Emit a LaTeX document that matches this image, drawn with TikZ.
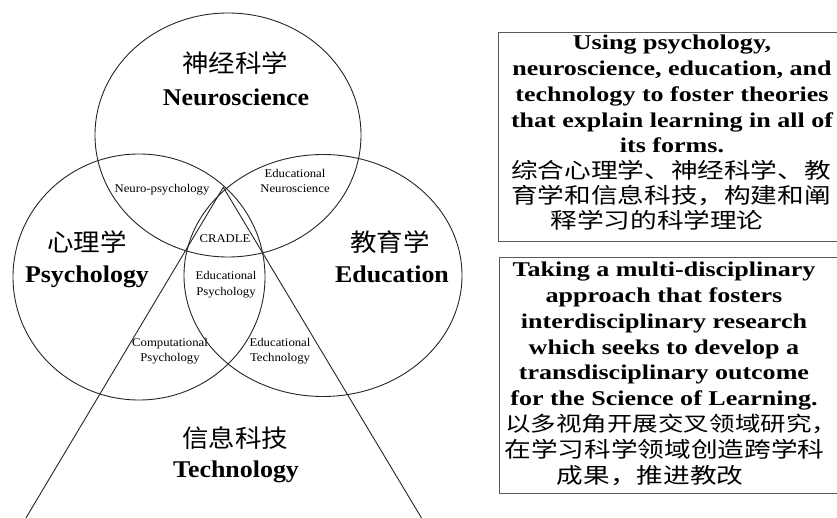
\documentclass[tikz,border=0pt]{standalone}
\usepackage{fontspec}
\setmainfont[FakeStretch=1.08]{Liberation Serif}
\newfontfamily\cjk[FakeStretch=1.08]{Noto Sans CJK SC}
\newfontfamily\boxfont[FakeStretch=1.24]{Liberation Serif}
\newfontfamily\boxcjk[FakeStretch=1.24]{Noto Sans CJK SC}

\begin{document}
\begin{tikzpicture}[x=1pt,y=-1pt,
  ring/.style={draw=black!85, line width=0.9pt},
  frame/.style={draw=black!65, line width=0.9pt},
  cnbig/.style={font=\cjk\fontsize{24.5}{28}\selectfont, anchor=base, inner sep=0pt},
  enbig/.style={font=\bfseries\fontsize{24}{28}\selectfont, anchor=base, inner sep=0pt},
  small/.style={font=\fontsize{11.8}{15.5}\selectfont, align=center, anchor=base, inner sep=0pt},
  enline/.style={font=\boxfont\bfseries\fontsize{21}{26}\selectfont, anchor=base, inner sep=0pt},
  cnline/.style={font=\boxcjk\fontsize{21.5}{26}\selectfont, anchor=base, inner sep=0pt},
]
\fill[white] (0,0) rectangle (837,518);
\useasboundingbox (0,0) rectangle (837,518);

% the three overlapping fields
\draw[ring] (228,135) ellipse [x radius=133pt, y radius=122pt];
\draw[ring] (139,277) ellipse [x radius=126pt, y radius=123pt];
\draw[ring] (323,275.5) ellipse [x radius=139pt, y radius=121pt];

% technology wedge
\coordinate (apex) at (223.3,187.3);
\coordinate (footL) at (25.9,518);
\coordinate (footR) at (421.5,518);
\draw[ring] (footL) -- (apex) -- (footR);

% field names
\node[cnbig] (neuroCN) at (235,73) {神经科学};
\node[enbig] (neuroEN) at (236,106) {Neuroscience};
\node[cnbig] (psyCN) at (87,252) {心理学};
\node[enbig] (psyEN) at (87,283) {Psychology};
\node[cnbig] (eduCN) at (390,252) {教育学};
\node[enbig] (eduEN) at (392,283) {Education};
\node[cnbig] (techCN) at (235,447) {信息科技};
\node[enbig] (techEN) at (236,477) {Technology};

% overlap names
\node[small] (np) at (162,193) {Neuro-psychology};
\node[small] (en) at (295,193) {Educational\\Neuroscience};
\node[small] (cradle) at (225,243) {CRADLE};
\node[small] (ep) at (226,295) {Educational\\Psychology};
\node[small] (cp) at (170,361.7) {Computational\\Psychology};
\node[small] (et) at (280,361.7) {Educational\\Technology};

% mission statement
\draw[frame] (837,32) -- (498,32) -- (498,241) -- (837,241);
\foreach \t [count=\i] in {{Using psychology,},{neuroscience, education, and},{technology to foster theories},{that explain learning in all of},{its forms.}}
  \node[enline] (ma\i) at (672,50+25.7*\i-25.7) {\t};
\node[cnline] (mc1) at (671,178.5) {综合心理学、神经科学、教};
\node[cnline] (mc2) at (671,204) {育学和信息科技，构建和阐};
\node[cnline] (mc3) at (657,229) {释学习的科学理论};

% approach statement
\draw[frame] (837,257) -- (499,257) -- (499,493) -- (837,493);
\foreach \t [count=\i] in {{Taking a multi-disciplinary},{approach that fosters},{interdisciplinary research},{which seeks to develop a},{transdisciplinary outcome},{for the Science of Learning.}}
  \node[enline] (aa\i) at (664,277+25.7*\i-25.7) {\t};
\node[cnline, font=\boxcjk\fontsize{20.6}{26}\selectfont] (ac1) at (663,431.5) {以多视角开展交叉领域研究\makebox[0.45em][l]{，}};
\node[cnline] (ac2) at (664.5,457) {在学习科学领域创造跨学科};
\node[cnline] (ac3) at (650,483) {成果，推进教改};
\end{tikzpicture}
\end{document}
